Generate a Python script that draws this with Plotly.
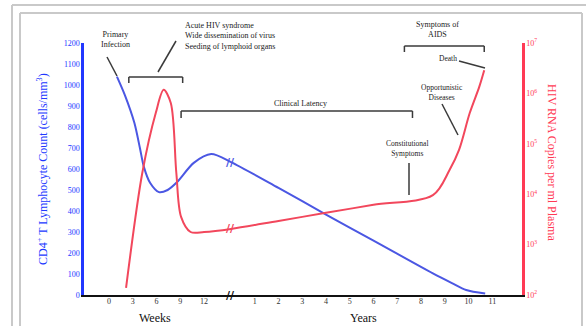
import plotly.graph_objects as go

# ---------------- data ----------------
# CD4+ T lymphocyte count (cells/mm3)
cd4_weeks = [1.0, 2.0, 3.2, 3.9, 4.4, 5.2, 6.3, 7.4, 8.6, 10.7, 12.9]
cd4_weeks_vals = [1040, 952, 820, 700, 610, 533, 490, 500, 538, 629, 671]
cd4_years = [0.0, 2.0, 4.0, 6.0, 8.5, 9.3, 9.9, 10.7]
cd4_years_vals = [633, 510, 383, 259, 103, 57, 24, 7]

# HIV RNA copies per ml plasma (log10)
rna_weeks = [2.15, 4.2, 5.9, 6.9, 7.8, 8.5, 9.1, 10.3, 12.0]
rna_weeks_log = [2.14, 4.42, 5.61, 6.07, 5.81, 4.42, 3.55, 3.25, 3.25]
rna_years = [0.0, 2.0, 4.0, 6.0, 8.5, 9.2, 9.6, 10.05, 10.45, 10.66]
rna_years_log = [3.31, 3.47, 3.63, 3.79, 3.98, 4.48, 4.88, 5.61, 6.13, 6.46]

week_ticks = [0, 3, 6, 9, 12]
year_ticks = [1, 2, 3, 4, 5, 6, 7, 8, 9, 10, 11]
cd4_ticks = list(range(0, 1300, 100))
rna_exponents = [2, 3, 4, 5, 6, 7]

# phases (start, end)
acute_phase_weeks = [2.5, 9.3]
latency_phase = [("w", 9.1), ("y", 7.64)]
aids_phase_years = [7.3, 10.66]

# ---------------- scale: broken time axis ----------------
BREAK_X = 15.4          # composite unit where week-scale ends / years start
UNITS_PER_YEAR = 3.0


def xw(w):
    return w


def xy(y):
    return BREAK_X + UNITS_PER_YEAR * y


SERIF = "Liberation Serif, Times New Roman, serif"
BLUE_LINE = "#4b57e3"
RED_LINE = "#f2475c"
BLUE_AX = "#2238ff"
RED_AX = "#ff3a55"

fig = go.Figure()
fig.add_trace(go.Scatter(
    x=[xw(w) for w in cd4_weeks] + [xy(y) for y in cd4_years],
    y=cd4_weeks_vals + cd4_years_vals,
    mode="lines", line=dict(color=BLUE_LINE, width=2, shape="spline", smoothing=0.8),
    showlegend=False, hoverinfo="skip"))
fig.add_trace(go.Scatter(
    x=[xw(w) for w in rna_weeks] + [xy(y) for y in rna_years],
    y=[10 ** v for v in rna_weeks_log + rna_years_log],
    yaxis="y2",
    mode="lines", line=dict(color=RED_LINE, width=2, shape="spline", smoothing=0.9),
    showlegend=False, hoverinfo="skip"))

W, H = 586, 326
L, R, T, B = 84, 64, 43, 31
PW, PH = W - L - R, H - T - B


def px(x):
    return (x - L) / PW


def py(y):
    return (H - B - y) / PH


fig.update_layout(
    width=W, height=H,
    margin=dict(l=L, r=R, t=T, b=B, pad=0),
    paper_bgcolor="white", plot_bgcolor="white",
    font=dict(family=SERIF, size=8, color="#222"),
    xaxis=dict(range=[-3.16, 52.15], showgrid=False, zeroline=False,
               showline=True, linecolor="#111", linewidth=2, ticks="",
               ticklabelstandoff=-3,
               tickvals=[xw(w) for w in week_ticks] + [xy(y) for y in year_ticks],
               ticktext=[str(w) for w in week_ticks] + [str(y) for y in year_ticks],
               tickfont=dict(family=SERIF, size=8, color="#333")),
    yaxis=dict(range=[0, 1200], showgrid=False, zeroline=False,
               showline=True, linecolor=BLUE_AX, linewidth=2.5, ticks="",
               tickvals=cd4_ticks, ticktext=[str(v) for v in cd4_ticks],
               tickfont=dict(family=SERIF, size=8, color=BLUE_AX)),
    yaxis2=dict(type="log", range=[2, 7], overlaying="y", side="right",
                showgrid=False, zeroline=False, showline=True,
                linecolor=RED_AX, linewidth=2.5, ticks="",
                tickvals=[10 ** e for e in rna_exponents],
                ticktext=["10<sup>%d</sup>" % e for e in rna_exponents],
                tickfont=dict(family=SERIF, size=8, color=RED_AX)),
)

ann = []


def text(x, y, t, size=8, color="#222", xanchor="center", align="center", angle=0):
    ann.append(dict(x=x, y=y, xref="paper", yref="paper", text=t, showarrow=False,
                    xanchor=xanchor, yanchor="middle", align=align, textangle=angle,
                    font=dict(family=SERIF, size=size, color=color)))


text(px(115), py(39), "Primary<br>Infection")
text(px(183), py(36), "Acute HIV syndrome<br>Wide dissemination of virus<br>Seeding of lymphoid organs",
     xanchor="left", align="left")
text(px(300), py(103), "Clinical Latency")
text(px(437), py(30), "Symptoms of<br>AIDS")
text(px(448), py(58), "Death", size=7.5)
text(px(442), py(92), "Opportunistic<br>Diseases", size=7.5)
text(px(407), py(148), "Constitutional<br>Symptoms", size=7.5)
text(px(155), py(318), "Weeks", size=12, color="#111")
text(px(363), py(318), "Years", size=12, color="#111")
text(px(42), 0.5, "CD4<sup>+</sup> T Lymphocyte Count (cells/mm<sup>3</sup>)", size=12,
     color=BLUE_AX, angle=-90)
text(px(552), py(162), "HIV RNA Copies per ml Plasma", size=12, color=RED_AX, angle=90)

# break marks
for yv, yref, col in [(0, "y", "#111"), (cd4_years_vals[0], "y", BLUE_LINE),
                      (rna_years_log[0], "y2", RED_LINE)]:
    ann.append(dict(x=BREAK_X, y=yv, xref="x", yref=yref, text="<b>//</b>", showarrow=False,
                    xanchor="center", yanchor="middle",
                    font=dict(family="DejaVu Sans", size=11, color=col)))
fig.update_layout(annotations=ann)

shapes = []
GRAY = "#3a3a3a"


def seg(x0, y0, x1, y1, xref="paper", color=GRAY, width=1.5):
    shapes.append(dict(type="line", x0=x0, y0=y0, x1=x1, y1=y1, xref=xref, yref="paper",
                       line=dict(color=color, width=width)))


def bracket(xa, xb, ytop, ydrop):
    seg(xa, ytop, xb, ytop, xref="x")
    seg(xa, ytop, xa, ydrop, xref="x")
    seg(xb, ytop, xb, ydrop, xref="x")


bracket(xw(acute_phase_weeks[0]), xw(acute_phase_weeks[1]), py(77), py(83))
lat = [xw(v) if k == "w" else xy(v) for k, v in latency_phase]
bracket(lat[0], lat[1], py(111), py(118))
bracket(xy(aids_phase_years[0]), xy(aids_phase_years[1]), py(46), py(52))

# pointer lines
seg(px(107), py(57), px(117), py(76))
seg(px(158), py(72), px(176), py(41))
seg(px(459), py(61), px(485), py(68))
seg(px(442), py(104), px(458), py(135))
seg(px(409), py(163), px(409), py(195))

# picture frame
FR = "#c9c9c9"
seg(px(12), py(5), px(586), py(5), color=FR, width=2)
seg(px(12), py(5), px(12), py(330), color=FR, width=2)
seg(px(20), py(13), px(582), py(13), color=FR, width=2)
seg(px(20), py(13), px(20), py(330), color=FR, width=2)
seg(px(582), py(13), px(582), py(330), color=FR, width=2)

fig.update_layout(shapes=shapes)
fig.write_html("out.html", config={"displayModeBar": False},
               post_script="document.body.style.margin='0';document.body.style.overflow='hidden';")
